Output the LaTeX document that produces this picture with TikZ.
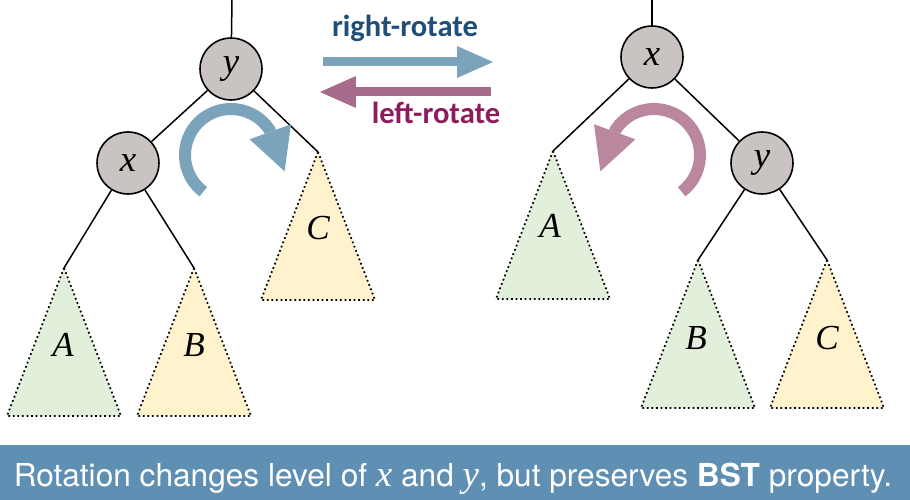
\documentclass[tikz,border=0pt]{standalone}
\usepackage{fontspec}
\setmainfont{Liberation Serif}
\newfontfamily\rotfont{Carlito}
\newfontfamily\bannerfont{TeX Gyre Heros}
\usepackage{tikz}
\usetikzlibrary{arrows.meta, positioning, calc}
\definecolor{keygray}{HTML}{C9C3C1}
\definecolor{treegreen}{HTML}{E2EFDA}
\definecolor{treeyellow}{HTML}{FFF2CC}
\definecolor{turnblue}{HTML}{7CA3BC}
\definecolor{turnpink}{HTML}{BA879F}
\definecolor{flatpink}{HTML}{A66A8A}
\definecolor{rightblue}{HTML}{1F4E79}
\definecolor{leftpink}{HTML}{8C1C5C}
\definecolor{bannerblue}{HTML}{5F8FB2}

\begin{document}
\begin{tikzpicture}
  [
    x=0.02cm, y=0.02cm,
    Key/.style={circle, draw=black, fill=keygray, line width=0.9pt, minimum size=1.24cm, inner sep=0pt, font=\fontsize{21}{21}\selectfont\itshape},
    Green/.style={draw=black, fill=treegreen, line width=1pt, dash pattern=on 1pt off 1.6pt},
    Yellow/.style={draw=black, fill=treeyellow, line width=1pt, dash pattern=on 1pt off 1.6pt},
    Name/.style={font=\fontsize{20}{20}\selectfont\itshape},
    Edge/.style={draw, line width=0.85pt},
    Turn/.style={line width=0.24cm, -{Triangle[length=0.84cm, width=0.88cm, line width=0pt]}},
    Flat/.style={line width=0.18cm, -{Triangle[length=0.72cm, width=0.64cm, line width=0pt]}},
    Rot/.style={font=\fontsize{17.4}{17}\selectfont\rotfont\bfseries}
  ]
  \useasboundingbox (0, 0) rectangle (910, 500);

  % Nodes
  \coordinate (topL) at (232, 500);
  \node[Key] (yL) at (231, 431) {y};
  \node[Key] (xL) at (128, 337) {x};
  \coordinate (AL) at (64, 232);
  \coordinate (BL) at (194, 232);
  \coordinate (CL) at (318, 348);

  \coordinate (topR) at (652, 500);
  \node[Key] (xR) at (652, 443) {x};
  \node[Key] (yR) at (762, 337) {y};
  \coordinate (AR) at (553, 349);
  \coordinate (BR) at (698, 240);
  \coordinate (CR) at (827, 240);

  % Subtrees
  \draw[Green] (AL) -- ++(-57, -148) -- ++(114, 0) -- cycle;
  \draw[Yellow] (BL) -- ++(-57, -148) -- ++(114, 0) -- cycle;
  \draw[Yellow] (CL) -- ++(-57, -148) -- ++(114, 0) -- cycle;
  \draw[Green] (AR) -- ++(-57, -148) -- ++(114, 0) -- cycle;
  \draw[Green] (BR) -- ++(-57, -148) -- ++(114, 0) -- cycle;
  \draw[Yellow] (CR) -- ++(-57, -148) -- ++(114, 0) -- cycle;

  \node[Name] (nAL) at (63, 155) {A};
  \node[Name] (nBL) at (194, 155) {B};
  \node[Name] (nCL) at (318, 272) {C};
  \node[Name] (nAR) at (550, 274) {A};
  \node[Name] (nBR) at (696, 162) {B};
  \node[Name] (nCR) at (827, 162) {C};

  % Lines
  \path [Edge] (topL) -- (yL);
  \path [Edge] (yL) -- (xL);
  \path [Edge] (yL) -- (CL);
  \path [Edge] (xL) -- (AL);
  \path [Edge] (xL) -- (BL);

  \path [Edge] (topR) -- (xR);
  \path [Edge] (xR) -- (AR);
  \path [Edge] (xR) -- (yR);
  \path [Edge] (yR) -- (BR);
  \path [Edge] (yR) -- (CR);

  % Turning arrows
  \coordinate (cL) at (231, 345);
  \coordinate (cR) at (654, 345);
  \draw[Turn, turnblue] ($(cL)+(233:46)$) arc[start angle=233, end angle=33, radius=46] -- ++(-70:44);
  \draw[Turn, turnpink] ($(cR)+(-53:46)$) arc[start angle=-53, end angle=147, radius=46] -- ++(250:44);

  % Rotate arrows
  \coordinate (rs) at (323, 438);
  \coordinate (re) at (493, 438);
  \coordinate (ls) at (491, 408);
  \coordinate (le) at (320, 408);
  \path [draw, Flat, turnblue] (rs) -- (re);
  \path [draw, Flat, flatpink] (ls) -- (le);
  \node[Rot, text=rightblue] (right) at (405, 472) {right-rotate};
  \node[Rot, text=leftpink] (left) at (436, 387) {left-rotate};

  % Banner
  \fill[bannerblue] (0, 0) rectangle (910, 55);
  \node[text=white, anchor=base, font=\fontsize{18}{18}\selectfont\bannerfont] (msg) at (453, 13)
    {Rotation changes level of {\fontsize{21}{21}\selectfont\rmfamily\itshape x} and {\fontsize{21}{21}\selectfont\rmfamily\itshape y}, but preserves \textbf{BST} property.};

\end{tikzpicture}
\end{document}
